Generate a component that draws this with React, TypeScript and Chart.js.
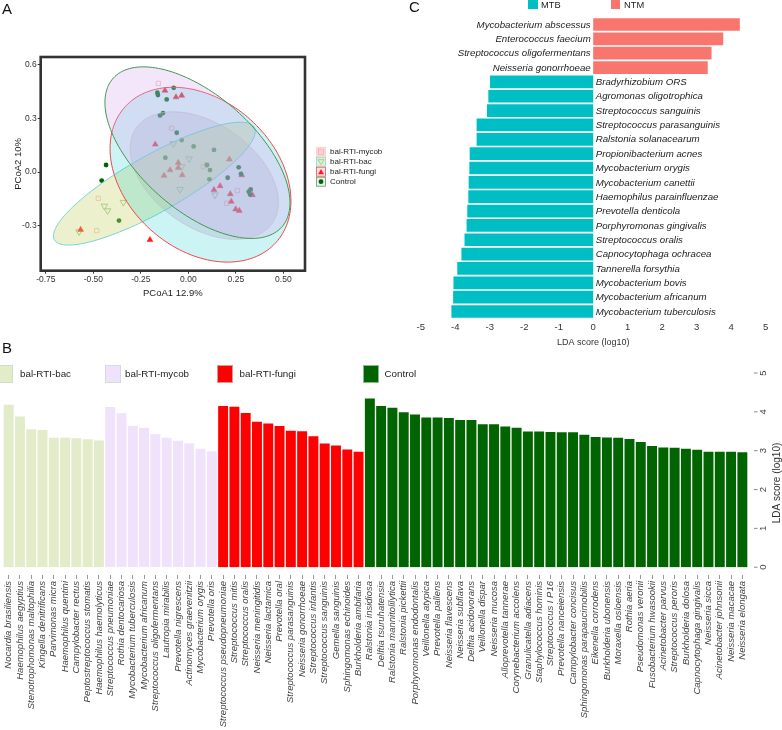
import React, { useEffect, useRef } from "react";
import { Chart, registerables } from "chart.js";
Chart.register(...registerables);

const FONT = "'Liberation Sans', Arial, Helvetica, sans-serif";
Chart.defaults.font.family = FONT;

// ---------------- Panel A : PCoA ----------------
const pcoaXTicks = [-0.75, -0.5, -0.25, 0, 0.25, 0.5];
const pcoaYTicks = [-0.3, 0, 0.3, 0.6];
const mycobPts = [[-0.158, 0.495], [-0.474, -0.147], [-0.482, -0.327], [0.079, 0.03], [0.258, -0.104], [0.202, -0.175], [-0.088, 0.244], [0.096, 0.039]];
const bacPts = [[-0.079, 0.158], [0.004, 0.074], [-0.035, 0.03], [-0.044, -0.097], [0.14, -0.128], [-0.342, -0.169], [-0.442, -0.19], [-0.425, -0.216], [-0.575, -0.333]];
const fungiPts = [[-0.123, 0.455], [-0.065, 0.418], [-0.035, 0.427], [-0.174, 0.154], [-0.053, 0.052], [-0.053, 0.024], [-0.096, 0.011], [-0.128, -0.02], [-0.032, -0.017], [0.216, 0.071], [0.281, -0.017], [0.167, -0.078], [0.135, -0.1], [0.221, -0.123], [0.226, -0.165], [0.249, -0.208], [0.268, -0.216], [0.337, -0.128], [-0.567, -0.322], [-0.202, -0.379]];
const controlPts = [[-0.163, 0.443], [-0.16, 0.43], [-0.077, 0.47], [-0.114, 0.405], [-0.133, 0.329], [-0.149, 0.316], [-0.061, 0.219], [-0.035, 0.178], [0.028, 0.143], [-0.121, 0.08], [0.135, 0.123], [0.098, 0.039], [0.114, 0.011], [0.111, -0.041], [0.207, -0.032], [0.265, 0.026], [0.277, -0.011], [0.328, -0.097], [0.318, -0.11], [0.325, -0.126], [-0.433, 0.039], [-0.456, -0.048], [-0.365, -0.271]];
// ellipse: [centerX, centerY, halfWidth, halfHeight, correlation]
const mycobEllipse = [0.084, -0.02, 0.39, 0.356, -0.42];
const bacEllipse = [-0.179, -0.065, 0.531, 0.343, 0.851];
const fungiEllipse = [0.064, -0.015, 0.476, 0.488, -0.3];
const controlEllipse = [0.048, 0.108, 0.487, 0.479, -0.584];
const groupsA = ["bal-RTI-mycob", "bal-RTI-bac", "bal-RTI-fungi", "Control"];

// ---------------- Panel B : LEfSe bars ----------------
const bacNames = ["Nocardia brasiliensis", "Haemophilus aegyptius", "Stenotrophomonas maltophilia", "Kingella denitrificans", "Parvimonas micra", "Haemophilus quentini", "Campylobacter rectus", "Peptostreptococcus stomatis", "Haemophilus haemolyticus"];
const bacScores = [4.2, 3.9, 3.57, 3.55, 3.35, 3.35, 3.34, 3.31, 3.28];
const mycobNames = ["Streptococcus pneumoniae", "Rothia dentocariosa", "Mycobacterium tuberculosis", "Mycobacterium africanum", "Streptococcus oligofermentans", "Lautropia mirabilis", "Prevotella nigrescens", "Actinomyces graevenitzii", "Mycobacterium orygis", "Prevotella oris"];
const mycobScores = [4.14, 3.98, 3.66, 3.61, 3.44, 3.35, 3.27, 3.21, 3.07, 3.0];
const fungiNames = ["Streptococcus pseudopneumoniae", "Streptococcus mitis", "Streptococcus oralis", "Neisseria meningitidis", "Neisseria lactamica", "Prevotella oral", "Streptococcus parasanguinis", "Neisseria gonorrhoeae", "Streptococcus infantis", "Streptococcus sanguinis", "Gemella sanguinis", "Sphingomonas echinoides", "Burkholderia ambifaria"];
const fungiScores = [4.17, 4.15, 3.99, 3.76, 3.72, 3.65, 3.53, 3.52, 3.39, 3.2, 3.15, 3.05, 2.99];
const controlNames = ["Ralstonia insidiosa", "Delftia tsuruhatensis", "Ralstonia mannitolilytica", "Ralstonia pickettii", "Porphyromonas endodontalis", "Veillonella atypica", "Prevotella pallens", "Neisseria flavescens", "Neisseria subflava", "Delftia acidovorans", "Veillonella dispar", "Neisseria mucosa", "Alloprevotella tannerae", "Corynebacterium accolens", "Granulicatella adiacens", "Staphylococcus hominis", "Streptococcus I P16", "Prevotella nanceiensis", "Campylobacter concisus", "Sphingomonas parapaucimobilis", "Eikenella corrodens", "Burkholderia ubonensis", "Moraxella osloensis", "Rothia aeria", "Pseudomonas veronii", "Fusobacterium hwasookii", "Acinetobacter parvus", "Streptococcus peroris", "Burkholderia dolosa", "Capnocytophaga gingivalis", "Neisseria sicca", "Acinetobacter johnsonii", "Neisseria macacae", "Neisseria elongata"];
const controlScores = [4.36, 4.17, 4.12, 4.01, 3.95, 3.87, 3.87, 3.86, 3.81, 3.81, 3.7, 3.7, 3.64, 3.61, 3.51, 3.51, 3.5, 3.49, 3.49, 3.43, 3.37, 3.36, 3.35, 3.32, 3.24, 3.14, 3.1, 3.09, 3.07, 3.04, 2.99, 2.99, 2.99, 2.98];
const ldaTicksB = [0, 1, 2, 3, 4, 5];

// ---------------- Panel C : MTB vs NTM ----------------
const ntmNames = ["Mycobacterium abscessus", "Enterococcus faecium", "Streptococcus oligofermentans", "Neisseria gonorrhoeae"];
const ntmScores = [4.25, 3.77, 3.43, 3.32];
const mtbNames = ["Bradyrhizobium ORS", "Agromonas oligotrophica", "Streptococcus sanguinis", "Streptococcus parasanguinis", "Ralstonia solanacearum", "Propionibacterium acnes", "Mycobacterium orygis", "Mycobacterium canettii", "Haemophilus parainfluenzae", "Prevotella denticola", "Porphyromonas gingivalis", "Streptococcus oralis", "Capnocytophaga ochracea", "Tannerella forsythia", "Mycobacterium bovis", "Mycobacterium africanum", "Mycobacterium tuberculosis"];
const mtbScores = [-2.99, -3.04, -3.08, -3.38, -3.38, -3.58, -3.59, -3.61, -3.62, -3.65, -3.67, -3.73, -3.82, -3.94, -4.05, -4.06, -4.11];

const BAC_COL = "rgb(226,236,200)";
const MYC_COL = "rgb(240,226,250)";
const FUN_COL = "#ff0000";
const CON_COL = "#006400";
const NTM_COL = "#F8766D";
const MTB_COL = "#00BFC4";

function drawEllipse(ctx, xs, ys, p, fill, stroke) {
  const [cx, cy, hw, hh, r] = p;
  const s = Math.sqrt(1 - r * r);
  ctx.beginPath();
  for (let k = 0; k <= 160; k++) {
    const t = (k / 160) * Math.PI * 2;
    const px = xs.getPixelForValue(cx + hw * Math.cos(t));
    const py = ys.getPixelForValue(cy + hh * (r * Math.cos(t) + s * Math.sin(t)));
    if (k === 0) ctx.moveTo(px, py);
    else ctx.lineTo(px, py);
  }
  ctx.closePath();
  ctx.fillStyle = fill;
  ctx.fill();
  ctx.strokeStyle = stroke;
  ctx.lineWidth = 1;
  ctx.stroke();
}

const ellipseDefs = [
  { p: mycobEllipse, fill: "rgba(190,150,190,0.28)", stroke: "rgba(245,180,190,0.6)" },
  { p: bacEllipse, fill: "rgba(205,215,120,0.38)", stroke: "rgb(120,210,215)" },
  { p: fungiEllipse, fill: "rgba(0,200,205,0.2)", stroke: "rgb(240,70,70)" },
  { p: controlEllipse, fill: "rgba(215,170,240,0.3)", stroke: "rgb(70,150,80)" },
];

const pcoaPlugin = {
  id: "pcoaExtras",
  afterDatasetsDraw(chart) {
    const { ctx, chartArea: a, scales } = chart;
    ctx.save();
    ctx.beginPath();
    ctx.rect(a.left, a.top, a.right - a.left, a.bottom - a.top);
    ctx.clip();
    ellipseDefs.forEach((e) => drawEllipse(ctx, scales.x, scales.y, e.p, e.fill, e.stroke));
    ctx.restore();
  },
  afterDraw(chart) {
    const { ctx, chartArea: a } = chart;
    ctx.save();
    ctx.strokeStyle = "#333";
    ctx.lineWidth = 2.6;
    ctx.strokeRect(a.left, a.top, a.right - a.left, a.bottom - a.top);
    // legend
    const x0 = 316.5;
    const keys = [
      { fill: "rgba(250,205,205,0.8)", stroke: "rgba(250,205,205,0.9)" },
      { fill: "rgb(228,238,208)", stroke: "rgb(140,215,215)" },
      { fill: "rgb(250,228,232)", stroke: "rgb(240,80,80)" },
      { fill: "rgb(236,236,246)", stroke: "rgb(90,160,100)" },
    ];
    groupsA.forEach((g, i) => {
      const cy = 151.7 + i * 10;
      const k = keys[i];
      ctx.fillStyle = k.fill;
      ctx.fillRect(x0, cy - 4.5, 9, 9);
      ctx.strokeStyle = k.stroke;
      ctx.lineWidth = 0.8;
      ctx.strokeRect(x0, cy - 4.5, 9, 9);
      const sx = x0 + 4.5;
      ctx.beginPath();
      if (i === 0) {
        ctx.strokeStyle = "rgba(245,170,170,0.9)";
        ctx.strokeRect(sx - 2.5, cy - 2.5, 5, 5);
      } else if (i === 1) {
        ctx.moveTo(sx - 3, cy - 2);
        ctx.lineTo(sx + 3, cy - 2);
        ctx.lineTo(sx, cy + 3);
        ctx.closePath();
        ctx.strokeStyle = "rgb(150,200,140)";
        ctx.stroke();
      } else if (i === 2) {
        ctx.moveTo(sx - 3, cy + 2.5);
        ctx.lineTo(sx + 3, cy + 2.5);
        ctx.lineTo(sx, cy - 2.8);
        ctx.closePath();
        ctx.fillStyle = "#ff1a1a";
        ctx.fill();
      } else {
        ctx.arc(sx, cy, 2.4, 0, Math.PI * 2);
        ctx.fillStyle = CON_COL;
        ctx.fill();
      }
      ctx.fillStyle = "#222";
      ctx.font = `8px ${FONT}`;
      ctx.textAlign = "left";
      ctx.textBaseline = "middle";
      ctx.fillText(g, 330, cy + 0.5);
    });
    ctx.restore();
  },
};

const cLabelPlugin = {
  id: "cLabels",
  afterDatasetsDraw(chart) {
    const { ctx, scales } = chart;
    const names = [...ntmNames, ...mtbNames];
    const vals = [...ntmScores, ...mtbScores];
    const x0 = scales.x.getPixelForValue(0);
    ctx.save();
    ctx.font = `italic 9.7px ${FONT}`;
    ctx.fillStyle = "#222";
    ctx.textBaseline = "middle";
    names.forEach((n, i) => {
      const py = scales.y.getPixelForValue(i) + 0.5;
      if (vals[i] > 0) {
        ctx.textAlign = "right";
        ctx.fillText(n, x0 - 2.5, py);
      } else {
        ctx.textAlign = "left";
        ctx.fillText(n, x0 + 2.5, py);
      }
    });
    ctx.restore();
  },
};

const bAxisPlugin = {
  id: "bAxis",
  afterDraw(chart) {
    const { ctx, scales, chartArea: a } = chart;
    ctx.save();
    ctx.strokeStyle = "#888";
    ctx.lineWidth = 1;
    ctx.fillStyle = "#444";
    ctx.font = `9.5px ${FONT}`;
    ldaTicksB.forEach((v) => {
      const py = scales.y.getPixelForValue(v);
      ctx.beginPath();
      ctx.moveTo(a.right + 6, py);
      ctx.lineTo(a.right + 9.5, py);
      ctx.stroke();
      ctx.save();
      ctx.translate(a.right + 15, py);
      ctx.rotate(-Math.PI / 2);
      ctx.textAlign = "center";
      ctx.textBaseline = "middle";
      ctx.fillText(String(v), 0, 0);
      ctx.restore();
    });
    ctx.save();
    ctx.translate(a.right + 29, 148);
    ctx.rotate(-Math.PI / 2);
    ctx.font = `10px ${FONT}`;
    ctx.fillStyle = "#333";
    ctx.textAlign = "center";
    ctx.textBaseline = "middle";
    ctx.fillText("LDA score (log10)", 0, 0);
    ctx.restore();
    ctx.restore();
  },
};

export default function App() {
  const aRef = useRef(null);
  const bRef = useRef(null);
  const cRef = useRef(null);

  useEffect(() => {
    const toXY = (arr) => arr.map(([x, y]) => ({ x, y }));
    const chartA = new Chart(aRef.current, {
      type: "scatter",
      data: {
        datasets: [
          { label: groupsA[3], data: toXY(controlPts), pointStyle: "circle", pointRadius: 2.4, backgroundColor: CON_COL, borderWidth: 0 },
          { label: groupsA[2], data: toXY(fungiPts), pointStyle: "triangle", pointRadius: 3.4, backgroundColor: "#ff1a1a", borderColor: "#ff1a1a", borderWidth: 0.5 },
          { label: groupsA[1], data: toXY(bacPts), pointStyle: "triangle", rotation: 180, pointRadius: 3.8, backgroundColor: "rgba(0,0,0,0)", borderColor: "rgb(150,200,140)", borderWidth: 1 },
          { label: groupsA[0], data: toXY(mycobPts), pointStyle: "rect", pointRadius: 3, backgroundColor: "rgba(0,0,0,0)", borderColor: "rgba(248,185,185,0.9)", borderWidth: 1 },
        ],
      },
      options: {
        responsive: false,
        animation: false,
        layout: { padding: { left: 0, top: 57, right: 77, bottom: 0 } },
        plugins: { legend: { display: false }, tooltip: { enabled: false } },
        scales: {
          x: {
            type: "linear",
            min: -0.777,
            max: 0.614,
            afterBuildTicks: (s) => { s.ticks = pcoaXTicks.map((v) => ({ value: v })); },
            afterFit: (s) => { s.height = 39.3; },
            ticks: { callback: (v) => Number(v).toFixed(2), color: "#333", font: { size: 8.5 }, padding: 1, maxRotation: 0 },
            grid: { display: true, drawOnChartArea: false, drawTicks: true, tickLength: 3, color: "#333" },
            border: { display: false },
            title: { display: true, text: "PCoA1 12.9%", color: "#222", font: { size: 9.5 }, padding: { top: 0, bottom: 11.3 } },
          },
          y: {
            type: "linear",
            min: -0.551,
            max: 0.642,
            afterBuildTicks: (s) => { s.ticks = pcoaYTicks.map((v) => ({ value: v })); },
            afterFit: (s) => { s.width = 40.7; },
            ticks: { callback: (v) => Number(v).toFixed(1), color: "#333", font: { size: 8.5 }, padding: 1 },
            grid: { display: true, drawOnChartArea: false, drawTicks: true, tickLength: 3, color: "#333" },
            border: { display: false },
            title: { display: true, text: "PCoA2 10%", color: "#222", font: { size: 9.5 }, padding: { top: 12.3, bottom: 0 } },
          },
        },
      },
      plugins: [pcoaPlugin],
    });

    const cNames = [...ntmNames, ...mtbNames];
    const cVals = [...ntmScores, ...mtbScores];
    const chartC = new Chart(cRef.current, {
      type: "bar",
      data: {
        labels: cNames,
        datasets: [{ data: cVals, backgroundColor: cVals.map((v) => (v > 0 ? NTM_COL : MTB_COL)), borderWidth: 0, barPercentage: 0.885, categoryPercentage: 1 }],
      },
      options: {
        indexAxis: "y",
        responsive: false,
        animation: false,
        layout: { padding: { left: 25.7, top: 17.3, right: 16.3, bottom: 0 } },
        plugins: { legend: { display: false }, tooltip: { enabled: false } },
        scales: {
          x: {
            min: -5,
            max: 5,
            ticks: { stepSize: 1, color: "#333", font: { size: 9.5 }, padding: 3 },
            grid: { display: false, drawTicks: false },
            border: { display: false },
            afterFit: (s) => { s.height = 33.3; },
            title: { display: true, text: "LDA score (log10)", color: "#333", font: { size: 9 }, padding: { top: 0, bottom: 3.6 } },
          },
          y: { display: false },
        },
      },
      plugins: [cLabelPlugin],
    });

    const bNames = [...bacNames, ...mycobNames, ...fungiNames, ...controlNames];
    const bVals = [...bacScores, ...mycobScores, ...fungiScores, ...controlScores];
    const bCols = [
      ...bacScores.map(() => BAC_COL),
      ...mycobScores.map(() => MYC_COL),
      ...fungiScores.map(() => FUN_COL),
      ...controlScores.map(() => CON_COL),
    ];
    const chartB = new Chart(bRef.current, {
      type: "bar",
      data: {
        labels: bNames,
        datasets: [{ data: bVals, backgroundColor: bCols, borderColor: "rgba(255,255,255,0.55)", borderWidth: 1, barPercentage: 1, categoryPercentage: 1 }],
      },
      options: {
        responsive: false,
        animation: false,
        layout: { padding: { left: 3, top: 38, right: 0, bottom: 0 } },
        plugins: { legend: { display: false }, tooltip: { enabled: false } },
        scales: {
          x: {
            ticks: { autoSkip: false, minRotation: 90, maxRotation: 90, color: "#444", font: { size: 9.5, style: "italic" }, padding: 2 },
            grid: { display: true, offset: false, drawOnChartArea: false, drawTicks: true, tickLength: 4, color: "#999" },
            border: { display: false },
            afterFit: (s) => { s.height = 155; },
          },
          y: {
            position: "right",
            min: -0.2,
            max: 5,
            afterBuildTicks: (s) => { s.ticks = ldaTicksB.map((v) => ({ value: v })); },
            ticks: { display: false },
            grid: { display: false },
            border: { display: false },
            afterFit: (s) => { s.width = 34; },
          },
        },
      },
      plugins: [bAxisPlugin],
    });

    return () => {
      chartA.destroy();
      chartB.destroy();
      chartC.destroy();
    };
  }, []);

  const letter = (t, left, top) => (
    <div style={{ position: "absolute", left, top, fontSize: 15, lineHeight: "15px", color: "#111" }}>{t}</div>
  );
  const legendB = [
    { name: "bal-RTI-bac", col: BAC_COL, sx: -3, tx: 20 },
    { name: "bal-RTI-mycob", col: MYC_COL, sx: 105, tx: 125 },
    { name: "bal-RTI-fungi", col: FUN_COL, sx: 217, tx: 239.5 },
    { name: "Control", col: CON_COL, sx: 363, tx: 384.5 },
  ];

  return (
    <div style={{ position: "absolute", left: 0, top: 0, width: 782, height: 730, background: "#fff", fontFamily: FONT, overflow: "hidden" }}>
      <canvas ref={aRef} width={382} height={310} style={{ position: "absolute", left: 0, top: 0 }} />
      <canvas ref={cRef} width={387} height={352} style={{ position: "absolute", left: 395, top: 0 }} />
      <canvas ref={bRef} width={782} height={395} style={{ position: "absolute", left: 0, top: 335 }} />
      {letter("A", 2, 1)}
      {letter("C", 409, -1)}
      {letter("B", 2, 340)}
      <div style={{ position: "absolute", left: 528.3, top: 0, width: 9.4, height: 9.3, background: MTB_COL }} />
      <div style={{ position: "absolute", left: 541, top: 0, fontSize: 9.3, lineHeight: "10px", color: "#222" }}>MTB</div>
      <div style={{ position: "absolute", left: 610.7, top: 0, width: 9.4, height: 9.3, background: NTM_COL }} />
      <div style={{ position: "absolute", left: 624, top: 0, fontSize: 9.3, lineHeight: "10px", color: "#222" }}>NTM</div>
      {legendB.map((l) => (
        <React.Fragment key={l.name}>
          <div style={{ position: "absolute", left: l.sx, top: 365, width: 16, height: 18, background: l.col, boxSizing: "border-box", border: "1px solid rgba(200,220,200,0.7)" }} />
          <div style={{ position: "absolute", left: l.tx, top: 368, fontSize: 9.8, lineHeight: "12px", color: "#222" }}>{l.name}</div>
        </React.Fragment>
      ))}
    </div>
  );
}
